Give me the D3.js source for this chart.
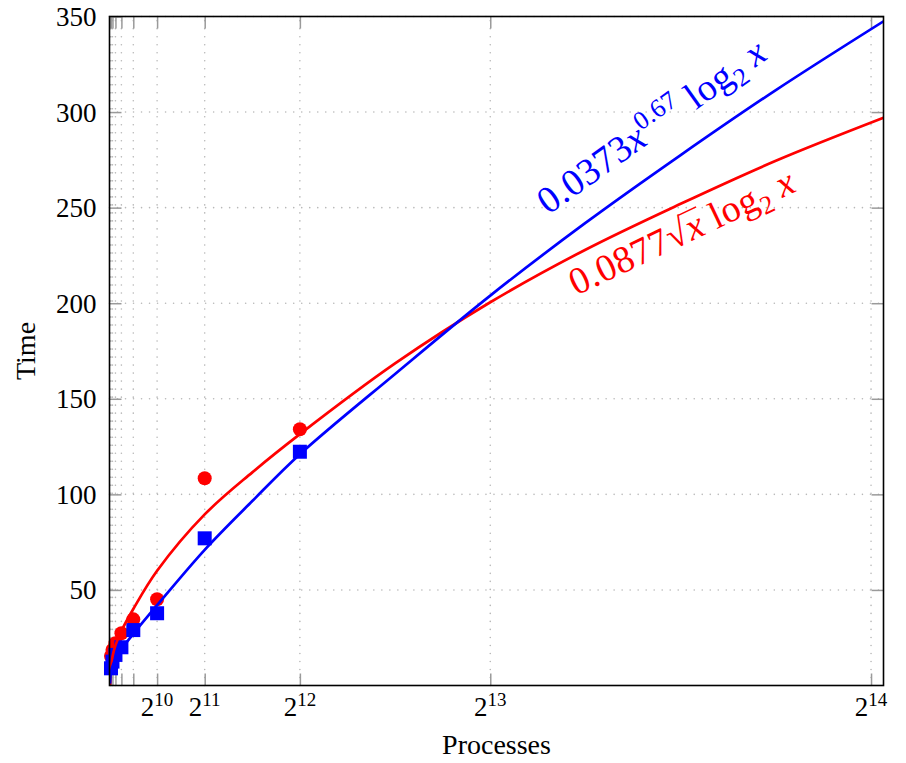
<!DOCTYPE html>
<html>
<head>
<meta charset="utf-8">
<script src="https://cdn.jsdelivr.net/npm/d3@7"></script>
<style>
body { margin: 0; background: #fff; }
svg text { font-family: "Liberation Serif", "DejaVu Serif", serif; }
</style>
</head>
<body>
<div id="chart"></div>
<script>
// measured runs
const procs = [32, 64, 128, 256, 512, 1024, 2048, 4096];
const timeRed = [15.4, 18.6, 22.1, 27.3, 34.6, 45.1, 108.4, 134.1];
const timeBlue = [9, 12.5, 16, 20, 29, 37.8, 77, 122.3];

// fitted curves, values
const fitX = [12, 32, 64, 128, 256, 512, 1024, 2048, 3072, 4096, 6144, 8192, 10240, 12288, 14336, 16652];
const fitRed = [0, 9, 15, 21, 28.5, 40, 60, 89.5, 111.5, 131.5, 168.5, 200.5, 228, 252, 274.5, 297];
const fitBlue = [1, 7, 10, 14, 19, 27, 42, 71, 96.5, 121, 163, 204, 242, 277.5, 311.5, 347.5];

const xTicks = [16, 32, 64, 128, 256, 512, 1024, 2048, 4096, 8192, 16384];
const xTickExp = ["", "", "", "", "", "", "10", "11", "12", "13", "14"];
const yTicks = [50, 100, 150, 200, 250, 300, 350];

const W = 906, H = 763;
const pL = 109.5, pR = 883.5, pT = 16.5, pB = 685.5;

const x = d3.scaleLinear().domain([0, 16652]).range([pL, pR]);
const y = d3.scaleLinear().domain([0, 350]).range([pB, pT]);

const svg = d3.select("#chart").append("svg").attr("width", W).attr("height", H);

svg.append("defs").append("clipPath").attr("id", "plot")
  .append("rect").attr("x", pL).attr("y", pT)
  .attr("width", pR - pL).attr("height", pB - pT);

// dotted grid
const grid = svg.append("g")
  .attr("stroke", "#b8b8b8").attr("stroke-width", 1.6)
  .attr("stroke-dasharray", "0.01 8").attr("stroke-linecap", "round");
grid.selectAll(".gx").data(xTicks).enter().append("line")
  .attr("x1", d => x(d)).attr("x2", d => x(d)).attr("y1", pB).attr("y2", pT);
grid.selectAll(".gy").data(yTicks).enter().append("line")
  .attr("x1", pL).attr("x2", pR).attr("y1", d => y(d)).attr("y2", d => y(d));

// inner ticks on all four sides
const tk = 12;
const axes = [
  [d3.axisBottom(x).tickValues(xTicks), "translate(0," + pB + ")"],
  [d3.axisTop(x).tickValues(xTicks), "translate(0," + pT + ")"],
  [d3.axisLeft(y).tickValues(yTicks), "translate(" + pL + ",0)"],
  [d3.axisRight(y).tickValues(yTicks), "translate(" + pR + ",0)"]
];
axes.forEach(a => {
  const g = svg.append("g").attr("transform", a[1])
    .call(a[0].tickSize(-tk).tickFormat(""));
  g.select(".domain").remove();
  g.selectAll(".tick line").attr("stroke", "#9a9a9a").attr("stroke-width", 1.5);
});

// data marks
svg.append("g").selectAll("circle").data(procs).enter().append("circle")
  .attr("cx", d => x(d)).attr("cy", (d, i) => y(timeRed[i]))
  .attr("r", 7).attr("fill", "#ff0000");
svg.append("g").selectAll("rect").data(procs).enter().append("rect")
  .attr("x", d => x(d) - 7).attr("y", (d, i) => y(timeBlue[i]) - 7)
  .attr("width", 14).attr("height", 14).attr("fill", "#0000ff");

// fitted curves
const line = ys => d3.line()
  .x(d => x(d))
  .y((d, i) => y(ys[i]))
  .curve(d3.curveCatmullRom.alpha(0.5))(fitX);
const curves = svg.append("g").attr("clip-path", "url(#plot)");
curves.append("path").attr("d", line(fitRed))
  .attr("fill", "none").attr("stroke", "#ff0000").attr("stroke-width", 2.7);
curves.append("path").attr("d", line(fitBlue))
  .attr("fill", "none").attr("stroke", "#0000ff").attr("stroke-width", 2.7);

// frame
svg.append("rect").attr("x", pL).attr("y", pT)
  .attr("width", pR - pL).attr("height", pB - pT)
  .attr("fill", "none").attr("stroke", "#000").attr("stroke-width", 1.6);

// tick labels
svg.append("g").selectAll("text").data(yTicks).enter().append("text")
  .attr("x", pL - 13).attr("y", d => y(d)).attr("dy", "0.35em")
  .attr("text-anchor", "end").attr("font-size", 27).text(d => d);

const xl = svg.append("g").selectAll("text")
  .data(xTicks.filter((d, i) => xTickExp[i] !== "")).enter().append("text")
  .attr("x", d => x(d)).attr("y", pB + 30)
  .attr("text-anchor", "middle").attr("font-size", 27);
xl.append("tspan").text("2");
xl.append("tspan").attr("font-size", 19).attr("dy", -10)
  .text(d => xTickExp[xTicks.indexOf(d)]);

// axis titles
svg.append("text").attr("x", (pL + pR) / 2).attr("y", 754)
  .attr("text-anchor", "middle").attr("font-size", 28).text("Processes");
svg.append("text")
  .attr("transform", "translate(35," + ((pT + pB) / 2) + ") rotate(-90)")
  .attr("text-anchor", "middle").attr("font-size", 28).text("Time");

// curve labels, placed along the curves
function at(ys, v) {
  const i = Math.max(0, Math.min(fitX.length - 2, d3.bisectRight(fitX, v) - 1));
  const t = (v - fitX[i]) / (fitX[i + 1] - fitX[i]);
  return ys[i] + t * (ys[i + 1] - ys[i]);
}
function angle(ys, v) {
  const a = v - 600, b = v + 600;
  return Math.atan2(y(at(ys, b)) - y(at(ys, a)), x(b) - x(a)) * 180 / Math.PI;
}
function label(ys, start, mid, off, color) {
  const g = svg.append("g")
    .attr("transform", "translate(" + x(start) + "," + (y(at(ys, start)) + off) + ") rotate(" + angle(ys, mid) + ")")
    .attr("fill", color);
  const t = g.append("text").attr("font-size", 38).attr("letter-spacing", 0.4);
  return [g, t];
}

const [gb, lb] = label(fitBlue, 9440, 11700, -36, "#0000ff");
lb.append("tspan").text("0.0373");
lb.append("tspan").attr("font-style", "italic").text("x");
lb.append("tspan").attr("font-size", 26).attr("dy", -15).text("0.67");
lb.append("tspan").attr("dy", 15).text(" log");
lb.append("tspan").attr("font-size", 26).attr("dy", 8).text("2");
lb.append("tspan").attr("dy", -8).attr("font-style", "italic").text(" x");

const [gr, lr] = label(fitRed, 10040, 12000, 41, "#ff0000");
lr.append("tspan").text("0.0877");
const rad = lr.append("tspan").text("\u221A");
const rx = lr.append("tspan").attr("font-style", "italic").text("x");
lr.append("tspan").text(" log");
lr.append("tspan").attr("font-size", 26).attr("dy", 8).text("2");
lr.append("tspan").attr("dy", -8).attr("font-style", "italic").text(" x");

// vinculum of the square root over x
const rb = rad.node().getBBox(), xb = rx.node().getBBox();
gr.append("line")
  .attr("x1", rb.x + rb.width - 1.5).attr("x2", xb.x + xb.width + 1)
  .attr("y1", -29).attr("y2", -29)
  .attr("stroke", "#ff0000").attr("stroke-width", 1.6);
</script>
</body>
</html>
